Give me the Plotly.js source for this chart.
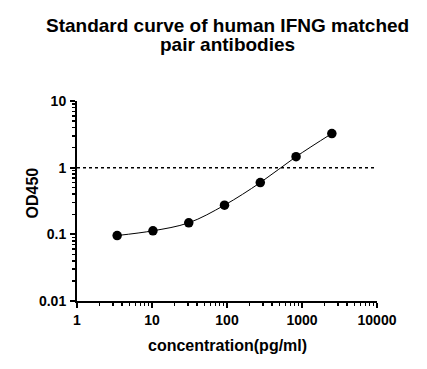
<!DOCTYPE html>
<html>
<head>
<meta charset="utf-8">
<script src="https://cdn.plot.ly/plotly-3.0.1.min.js"></script>
<style>html,body{margin:0;padding:0;background:#fff}#chart{width:427px;height:369px}</style>
</head>
<body>
<div id="chart"></div>
<script>
const concentration = [3.43, 10.3, 30.9, 92.6, 278, 833, 2500];
const od450 = [0.096, 0.113, 0.149, 0.274, 0.597, 1.46, 3.25];
const xTickVals = [1, 10, 100, 1000, 10000];
const xTickText = ['1', '10', '100', '1000', '10000'];
const yTickVals = [0.01, 0.1, 1, 10];
const yTickText = ['0.01', '0.1', '1', '10'];
const cutoff = 1;
const titleLines = ['Standard curve of human IFNG matched', 'pair antibodies'];
const xTitle = 'concentration(pg/ml)';
const yTitle = 'OD450';

const fontFam = 'Liberation Sans, Arial, sans-serif';
const boldFont = (s) => ({family: fontFam, size: s, color: 'black', weight: 'bold'});

const traces = [
  {
    x: concentration, y: od450, type: 'scatter', mode: 'lines',
    line: {color: 'black', width: 1, shape: 'spline', smoothing: 1},
    hoverinfo: 'skip', showlegend: false
  },
  {
    x: concentration, y: od450, type: 'scatter', mode: 'markers',
    marker: {color: 'black', size: 9.5},
    showlegend: false
  }
];

const axisCommon = {
  type: 'log',
  showline: true, linecolor: 'black', linewidth: 2,
  ticks: 'outside', ticklen: 5, tickwidth: 2, tickcolor: 'black',
  showgrid: false, zeroline: false,
  tickfont: boldFont(14),
  minor: {ticks: 'outside', ticklen: 3, tickwidth: 1.5, tickcolor: 'black', dtick: 'D1', showgrid: false}
};

const layout = {
  width: 427, height: 369,
  margin: {l: 77, r: 50, t: 101, b: 68},
  paper_bgcolor: 'white', plot_bgcolor: 'white',
  xaxis: Object.assign({}, axisCommon, {
    range: [0, 4], tickvals: xTickVals, ticktext: xTickText
  }),
  yaxis: Object.assign({}, axisCommon, {
    range: [-2, 1], tickvals: yTickVals, ticktext: yTickText, ticklabelstandoff: 1
  }),
  annotations: [
    {text: titleLines[0], xref: 'paper', x: 0.5, yref: 'paper', y: 1 + (101 - 25) / 200,
      yanchor: 'middle', showarrow: false, font: boldFont(19)},
    {text: titleLines[1], xref: 'paper', x: 0.5, yref: 'paper', y: 1 + (101 - 45) / 200,
      yanchor: 'middle', showarrow: false, font: boldFont(19)},
    {text: xTitle, xref: 'paper', x: 0.5, yref: 'paper', y: -(345 - 301) / 200,
      yanchor: 'middle', showarrow: false, font: boldFont(16)},
    {text: yTitle, xref: 'paper', x: -(77 - 31.5) / 300, yref: 'paper', y: (301 - 193) / 200,
      xanchor: 'center', yanchor: 'middle', textangle: -90, showarrow: false, font: boldFont(16)}
  ],
  shapes: [{
    type: 'line', xref: 'paper', yref: 'y', x0: 0, x1: 0.99, y0: cutoff, y1: cutoff,
    line: {color: 'black', width: 1.5, dash: 'dot'}
  }]
};

Plotly.newPlot('chart', traces, layout, {displayModeBar: false, staticPlot: true});
</script>
</body>
</html>
